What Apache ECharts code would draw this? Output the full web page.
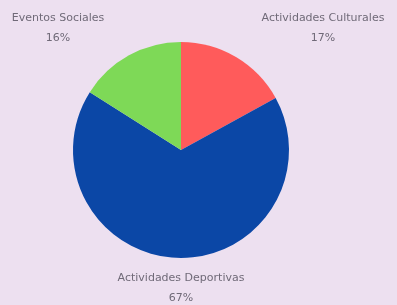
<!DOCTYPE html>
<html><head><meta charset="utf-8">
<script src="https://cdn.jsdelivr.net/npm/echarts@6/dist/echarts.min.js"></script>
<style>html,body{margin:0;padding:0;background:#ede0f0;}#c{width:397px;height:305px;}</style>
</head><body><div id="c"></div>
<script>
const categories = ['Actividades Culturales', 'Actividades Deportivas', 'Eventos Sociales'];
const values = [17, 67, 16];
const colors = ['#ff5b5b', '#0b47a6', '#7ed957'];
const labelPos = [[323, 28], [181, 288], [58, 28]];

const chart = echarts.init(document.getElementById('c'));
chart.setOption({
  backgroundColor: '#ede0f0',
  animation: false,
  series: [{
    type: 'pie',
    center: [181, 150],
    radius: 108,
    startAngle: 90,
    clockwise: true,
    data: categories.map((n, i) => ({ name: n, value: values[i], itemStyle: { color: colors[i] } })),
    label: {
      show: true,
      position: 'outside',
      formatter: '{b}\n{d}%',
      color: '#706a78',
      fontFamily: 'DejaVu Sans',
      fontWeight: 'normal',
      fontSize: 11,
      lineHeight: 20,
      align: 'center',
      overflow: 'none',
      width: 200
    },
    labelLine: { show: false },
    labelLayout: function (p) {
      const pos = labelPos[p.dataIndex];
      return { x: pos[0], y: pos[1], align: 'center', verticalAlign: 'middle' };
    }
  }]
});
</script></body></html>
